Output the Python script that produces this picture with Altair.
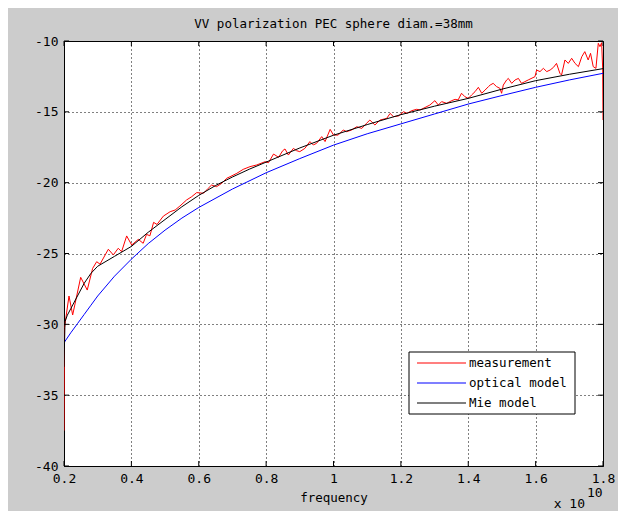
import altair as alt
import pandas as pd

# ---------------- data ----------------
x_ticks = [0.2, 0.4, 0.6, 0.8, 1.0, 1.2, 1.4, 1.6, 1.8]
y_ticks = [-40, -35, -30, -25, -20, -15, -10]

series_names = ["measurement", "optical model", "Mie model"]
series_colors = ["#ff0000", "#0000ff", "#000000"]

meas_x = [0.200, 0.201, 0.2148, 0.2257, 0.2495, 0.269, 0.285, 0.297, 0.307, 0.3316,
          0.3464, 0.361, 0.371, 0.386, 0.401, 0.4206, 0.435, 0.445, 0.455, 0.466,
          0.476, 0.495, 0.515, 0.530, 0.544, 0.564, 0.579, 0.594, 0.614, 0.628,
          0.638, 0.653, 0.668, 0.683, 0.693, 0.713, 0.732, 0.752, 0.772, 0.797,
          0.807, 0.822, 0.837, 0.849, 0.856, 0.866, 0.881, 0.890, 0.900, 0.915,
          0.930, 0.940, 0.950, 0.965, 0.975, 0.990, 1.000, 1.014, 1.029, 1.039,
          1.054, 1.069, 1.084, 1.098, 1.108, 1.123, 1.138, 1.158, 1.168, 1.178,
          1.193, 1.208, 1.218, 1.232, 1.247, 1.257, 1.286, 1.301, 1.311, 1.321,
          1.336, 1.351, 1.361, 1.370, 1.380, 1.390, 1.400, 1.410, 1.420, 1.430,
          1.440, 1.450, 1.460, 1.465, 1.474, 1.484, 1.494, 1.499, 1.504, 1.514,
          1.519, 1.529, 1.539, 1.549, 1.558, 1.568, 1.578, 1.598, 1.603, 1.613,
          1.623, 1.633, 1.643, 1.653, 1.662, 1.672, 1.677, 1.687, 1.697, 1.707,
          1.717, 1.727, 1.737, 1.746, 1.756, 1.763, 1.771, 1.779, 1.786, 1.791,
          1.796, 1.799, 1.800]
meas_y = [-37.5, -30.3, -28.0, -29.34, -26.68, -27.58, -26.05, -25.58, -25.75, -24.7,
          -25.1, -24.63, -24.87, -23.76, -24.4, -24.0, -24.28, -23.65, -23.75, -22.8,
          -22.95, -22.36, -22.05, -21.93, -21.65, -21.22, -20.99, -20.70, -20.75, -20.40,
          -20.17, -20.28, -20.05, -19.69, -19.58, -19.34, -19.06, -18.87, -18.75, -18.52,
          -18.59, -17.98, -18.21, -17.75, -17.62, -18.05, -17.58, -17.74, -17.81, -17.58,
          -17.10, -17.34, -17.22, -16.75, -17.10, -16.24, -16.64, -16.64, -16.28, -16.40,
          -16.28, -16.05, -16.17, -15.81, -15.58, -15.93, -15.58, -15.46, -15.11, -15.34,
          -15.29, -14.99, -15.11, -14.92, -14.82, -14.87, -14.52, -14.21, -14.52, -14.28,
          -14.40, -14.21, -14.12, -14.16, -13.69, -13.93, -14.05, -13.81, -13.58, -13.27,
          -13.69, -13.46, -13.22, -13.11, -12.99, -13.22, -13.34, -13.69, -13.11, -12.75,
          -12.64, -12.99, -12.75, -12.64, -12.99, -12.87, -12.75, -12.52, -12.05, -12.16,
          -11.93, -12.16, -12.05, -11.86, -11.58, -12.28, -12.40, -11.34, -11.58, -11.22,
          -11.58, -11.81, -11.11, -10.75, -11.34, -10.87, -11.81, -11.93, -10.16, -10.40,
          -10.12, -11.93, -15.58]

opt_x = [0.2, 0.22, 0.24, 0.26, 0.28, 0.30, 0.35, 0.40, 0.45, 0.50, 0.55, 0.60,
         0.70, 0.80, 0.90, 1.00, 1.10, 1.20, 1.30, 1.40, 1.50, 1.60, 1.70, 1.80]
opt_y = [-31.3, -30.6, -29.95, -29.3, -28.65, -28.0, -26.6, -25.4, -24.3, -23.35, -22.5, -21.75,
         -20.45, -19.3, -18.3, -17.35, -16.55, -15.85, -15.15, -14.45, -13.85, -13.27, -12.75, -12.28]

mie_x = [0.2, 0.203, 0.21, 0.22, 0.24, 0.26, 0.28, 0.30, 0.35, 0.40, 0.45, 0.50,
         0.55, 0.60, 0.65, 0.70, 0.75, 0.80, 0.90, 1.00, 1.10, 1.20, 1.30, 1.40,
         1.50, 1.60, 1.70, 1.80]
mie_y = [-33.0, -29.8, -29.35, -28.9, -28.0, -27.1, -26.4, -25.9, -25.2, -24.5, -23.5, -22.6,
         -21.7, -20.9, -20.2, -19.6, -19.05, -18.55, -17.55, -16.65, -15.9, -15.2, -14.6, -14.05,
         -13.4, -12.8, -12.35, -11.95]

# ---------------- tables ----------------
frames = []
for name, xs, ys in zip(series_names, [meas_x, opt_x, mie_x], [meas_y, opt_y, mie_y]):
    frames.append(pd.DataFrame({"x": xs, "y": ys, "series": name, "order": range(len(xs))}))
lines_df = pd.concat(frames, ignore_index=True)
xt_df = pd.DataFrame({"x": x_ticks})
yt_df = pd.DataFrame({"y": y_ticks})

W, H = 539, 425
FONT = "DejaVu Sans Mono"

xscale = alt.Scale(domain=[0.2, 1.8], nice=False, zero=False)
yscale = alt.Scale(domain=[-40, -10], nice=False, zero=False)

xaxis = alt.Axis(values=x_ticks, format="~g", title="frequency", grid=True,
                 gridDash=[1, 3], gridColor="black", gridOpacity=1, gridWidth=1,
                 ticks=False, domain=False, labelFont=FONT, labelFontSize=13,
                 labelColor="black", labelPadding=6, labelFlush=False, labelOverlap=False,
                 titleFont=FONT, titleFontSize=12.5, titleFontWeight="normal",
                 titleColor="black", titlePadding=6)
yaxis = alt.Axis(values=y_ticks, format="d", title=None, grid=True,
                 gridDash=[1, 3], gridColor="black", gridOpacity=1, gridWidth=1,
                 ticks=False, domain=False, labelFont=FONT, labelFontSize=13,
                 labelColor="black", labelPadding=6, labelFlush=False, labelOverlap=False,
                 labelExpr="replace(datum.label, '\u2212', '-')")

color = alt.Color("series:N", scale=alt.Scale(domain=series_names, range=series_colors),
                  legend=None)

base = alt.Chart(lines_df)


def series_layer(name):
    return base.transform_filter(alt.datum.series == name).mark_line(
        strokeWidth=1, clip=True
    ).encode(
        x=alt.X("x:Q", scale=xscale, axis=xaxis),
        y=alt.Y("y:Q", scale=yscale, axis=yaxis),
        color=color,
        order="order:Q",
    )


layers = [series_layer(n) for n in series_names]

tk = dict(color="black", strokeWidth=1)
layers.append(alt.Chart(xt_df).mark_rule(**tk).encode(
    x=alt.X("x:Q", scale=xscale, axis=xaxis), y=alt.value(H), y2=alt.value(H - 5)))
layers.append(alt.Chart(xt_df).mark_rule(**tk).encode(
    x=alt.X("x:Q", scale=xscale, axis=xaxis), y=alt.value(0), y2=alt.value(5)))
layers.append(alt.Chart(yt_df).mark_rule(**tk).encode(
    y=alt.Y("y:Q", scale=yscale, axis=yaxis), x=alt.value(0), x2=alt.value(5)))
layers.append(alt.Chart(yt_df).mark_rule(**tk).encode(
    y=alt.Y("y:Q", scale=yscale, axis=yaxis), x=alt.value(W), x2=alt.value(W - 5)))

# ---- legend box (drawn by hand, MATLAB style) ----
LX0, LX1, LY0, LY1 = 345, 511, 311, 373
leg_df = pd.DataFrame({"series": series_names, "color": series_colors})
layers.append(alt.Chart(leg_df.head(1)).mark_rect(
    fill="white", stroke="black", strokeWidth=1).encode(
    x=alt.value(LX0), x2=alt.value(LX1), y=alt.value(LY0), y2=alt.value(LY1)))
for i, (name, col) in enumerate(zip(series_names, series_colors)):
    ry = LY0 + 11 + 20 * i
    row = leg_df.iloc[[i]]
    layers.append(alt.Chart(row).mark_rule(color=col, strokeWidth=1.2).encode(
        x=alt.value(LX0 + 8), x2=alt.value(LX0 + 57), y=alt.value(ry)))
    layers.append(alt.Chart(row).mark_text(
        font=FONT, fontSize=12.5, align="left", baseline="middle", color="black").encode(
        text="series:N", x=alt.value(LX0 + 60), y=alt.value(ry)))

# ---- exponent annotation ----
exp_df = pd.DataFrame({"t": ["10"]})
xx_df = pd.DataFrame({"t": ["x 10"]})
layers.append(alt.Chart(exp_df).mark_text(font=FONT, fontSize=13, align="left",
                                          baseline="middle", color="black").encode(
    text="t:N", x=alt.value(523), y=alt.value(452)))
layers.append(alt.Chart(xx_df).mark_text(font=FONT, fontSize=13, align="right",
                                         baseline="middle", color="black").encode(
    text="t:N", x=alt.value(521), y=alt.value(463)))

chart = alt.layer(*layers).properties(
    width=W, height=H,
    title=alt.TitleParams("VV polarization PEC sphere diam.=38mm", font=FONT,
                          fontSize=12.5, fontWeight="normal", color="black",
                          anchor="middle", offset=5),
    autosize=alt.AutoSizeParams(type="none"),
    padding={"left": 56, "top": 33, "right": 15, "bottom": 45},
    background="#cccccc",
).configure_view(fill="white", stroke="black", strokeWidth=1)

chart.save("out.html", embed_options={"renderer": "svg", "actions": False})
